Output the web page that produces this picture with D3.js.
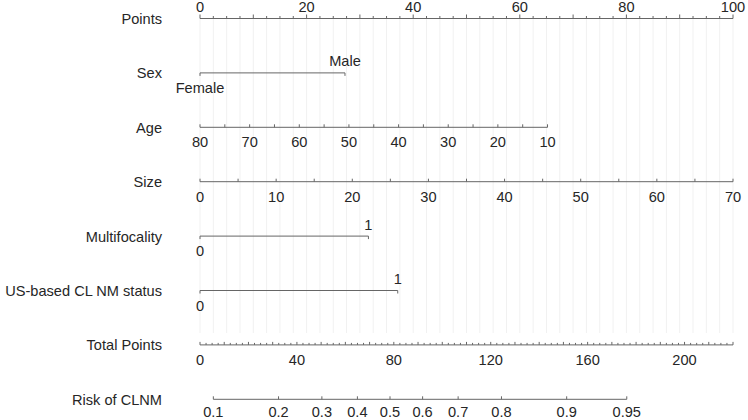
<!DOCTYPE html>
<html>
<head>
<meta charset="utf-8">
<script src="https://cdn.jsdelivr.net/npm/d3@7"></script>
<style>
  body { margin: 0; background: #fff; }
  text { font-family: "Liberation Sans", Arial, sans-serif; font-size: 14.6px; fill: #262626; }
</style>
</head>
<body>
<script>
// row names, top to bottom
var rowLabels = ["Points", "Sex", "Age", "Size", "Multifocality",
                 "US-based CL NM status", "Total Points", "Risk of CLNM"];

// points scale
var pointLabels = [0, 20, 40, 60, 80, 100];

// sex
var sexLevels = ["Female", "Male"];
var sexPoints = [0, 27.2];

// age (80 -> 0 points, 10 -> 65.2 points)
var ageLabels = [80, 70, 60, 50, 40, 30, 20, 10];
var ageDomain = [80, 10];
var agePoints = [0, 65.2];

// size
var sizeLabels = [0, 10, 20, 30, 40, 50, 60, 70];
var sizeDomain = [0, 70];
var sizePoints = [0, 100];

// multifocality
var multiLevels = ["0", "1"];
var multiPoints = [0, 31.6];

// US-based CLNM status
var usLevels = ["0", "1"];
var usPoints = [0, 37.1];

// total points
var totalLabels = [0, 40, 80, 120, 160, 200];
var totalMax = 220;

// risk
var riskLabels = [0.1, 0.2, 0.3, 0.4, 0.5, 0.6, 0.7, 0.8, 0.9, 0.95];
var riskIntercept = -2.363;
var riskSlope = 0.03013;

var width = 748, height = 420;
var left = 200, right = 733;
var top0 = 18.5, rowGap = 54.4;
var lineColor = "#666";

var svg = d3.select("body").append("svg")
    .attr("width", width)
    .attr("height", height);

var xPoints = d3.scaleLinear().domain([0, 100]).range([left, right]);
var xTotal = d3.scaleLinear().domain([0, totalMax]).range([left, right]);
var ageToPts = d3.scaleLinear().domain(ageDomain).range(agePoints);
var sizeToPts = d3.scaleLinear().domain(sizeDomain).range(sizePoints);

var rowY = function(i) { return top0 + i * rowGap; };

// light vertical grid
svg.append("g")
    .selectAll("line")
    .data(d3.range(0, 100.01, 2.5))
    .join("line")
    .attr("x1", function(d) { return xPoints(d); })
    .attr("x2", function(d) { return xPoints(d); })
    .attr("y1", rowY(0))
    .attr("y2", 333)
    .attr("stroke", "#f1f1f1")
    .attr("stroke-width", 1);

// row labels
svg.append("g")
    .selectAll("text")
    .data(rowLabels)
    .join("text")
    .attr("x", 162)
    .attr("y", function(d, i) { return rowY(i) + 5.5; })
    .attr("text-anchor", "end")
    .text(function(d) { return d; });

// generic axis row
function drawRow(y, x0, x1, ticks, labels, below) {
    var g = svg.append("g");
    below = below || 20;
    g.append("line")
        .attr("x1", x0).attr("x2", x1)
        .attr("y1", y).attr("y2", y)
        .attr("stroke", lineColor);
    g.selectAll("line.tk")
        .data(ticks)
        .join("line")
        .attr("class", "tk")
        .attr("x1", function(d) { return d.x; })
        .attr("x2", function(d) { return d.x; })
        .attr("y1", y)
        .attr("y2", function(d) { return y + d.len; })
        .attr("stroke", lineColor);
    g.selectAll("text")
        .data(labels)
        .join("text")
        .attr("x", function(d) { return d.x; })
        .attr("y", function(d) { return d.above ? y - 6.5 : y + below; })
        .attr("text-anchor", "middle")
        .text(function(d) { return d.text; });
}

// Points
drawRow(rowY(0), xPoints(0), xPoints(100),
    d3.range(0, 100.01, 2.5).map(function(v) {
        return { x: xPoints(v), len: v % 10 === 0 ? -4 : -2.5 };
    }),
    pointLabels.map(function(v) { return { x: xPoints(v), text: v, above: true }; }));

// categorical rows
function drawCat(i, levels, pts) {
    drawRow(rowY(i), xPoints(pts[0]), xPoints(pts[1]),
        pts.map(function(p) { return { x: xPoints(p), len: 3 }; }),
        levels.map(function(l, j) { return { x: xPoints(pts[j]), text: l, above: j === 1 }; }));
}
drawCat(1, sexLevels, sexPoints);

// Age
drawRow(rowY(2), xPoints(ageToPts(ageDomain[0])), xPoints(ageToPts(ageDomain[1])),
    d3.range(ageDomain[1], ageDomain[0] + 0.01, 5).map(function(v) {
        return { x: xPoints(ageToPts(v)), len: -3 };
    }),
    ageLabels.map(function(v) { return { x: xPoints(ageToPts(v)), text: v }; }));

// Size
drawRow(rowY(3), xPoints(sizeToPts(sizeDomain[0])), xPoints(sizeToPts(sizeDomain[1])),
    d3.range(sizeDomain[0], sizeDomain[1] + 0.01, 5).map(function(v) {
        return { x: xPoints(sizeToPts(v)), len: -3 };
    }),
    sizeLabels.map(function(v) { return { x: xPoints(sizeToPts(v)), text: v }; }));

drawCat(4, multiLevels, multiPoints);
drawCat(5, usLevels, usPoints);

// Total points
drawRow(rowY(6), xTotal(0), xTotal(totalMax),
    d3.range(0, totalMax + 0.01, 2.5).map(function(v) {
        return { x: xTotal(v), len: v % 10 === 0 ? -3 : -2 };
    }),
    totalLabels.map(function(v) { return { x: xTotal(v), text: v }; }));

// Risk
var riskX = function(p) {
    var logit = Math.log(p / (1 - p));
    return xTotal((logit - riskIntercept) / riskSlope);
};
drawRow(rowY(7), riskX(riskLabels[0]), riskX(riskLabels[riskLabels.length - 1]),
    riskLabels.map(function(p) { return { x: riskX(p), len: -3 }; }),
    riskLabels.map(function(p) { return { x: riskX(p), text: p }; }), 17.5);
</script>
</body>
</html>
